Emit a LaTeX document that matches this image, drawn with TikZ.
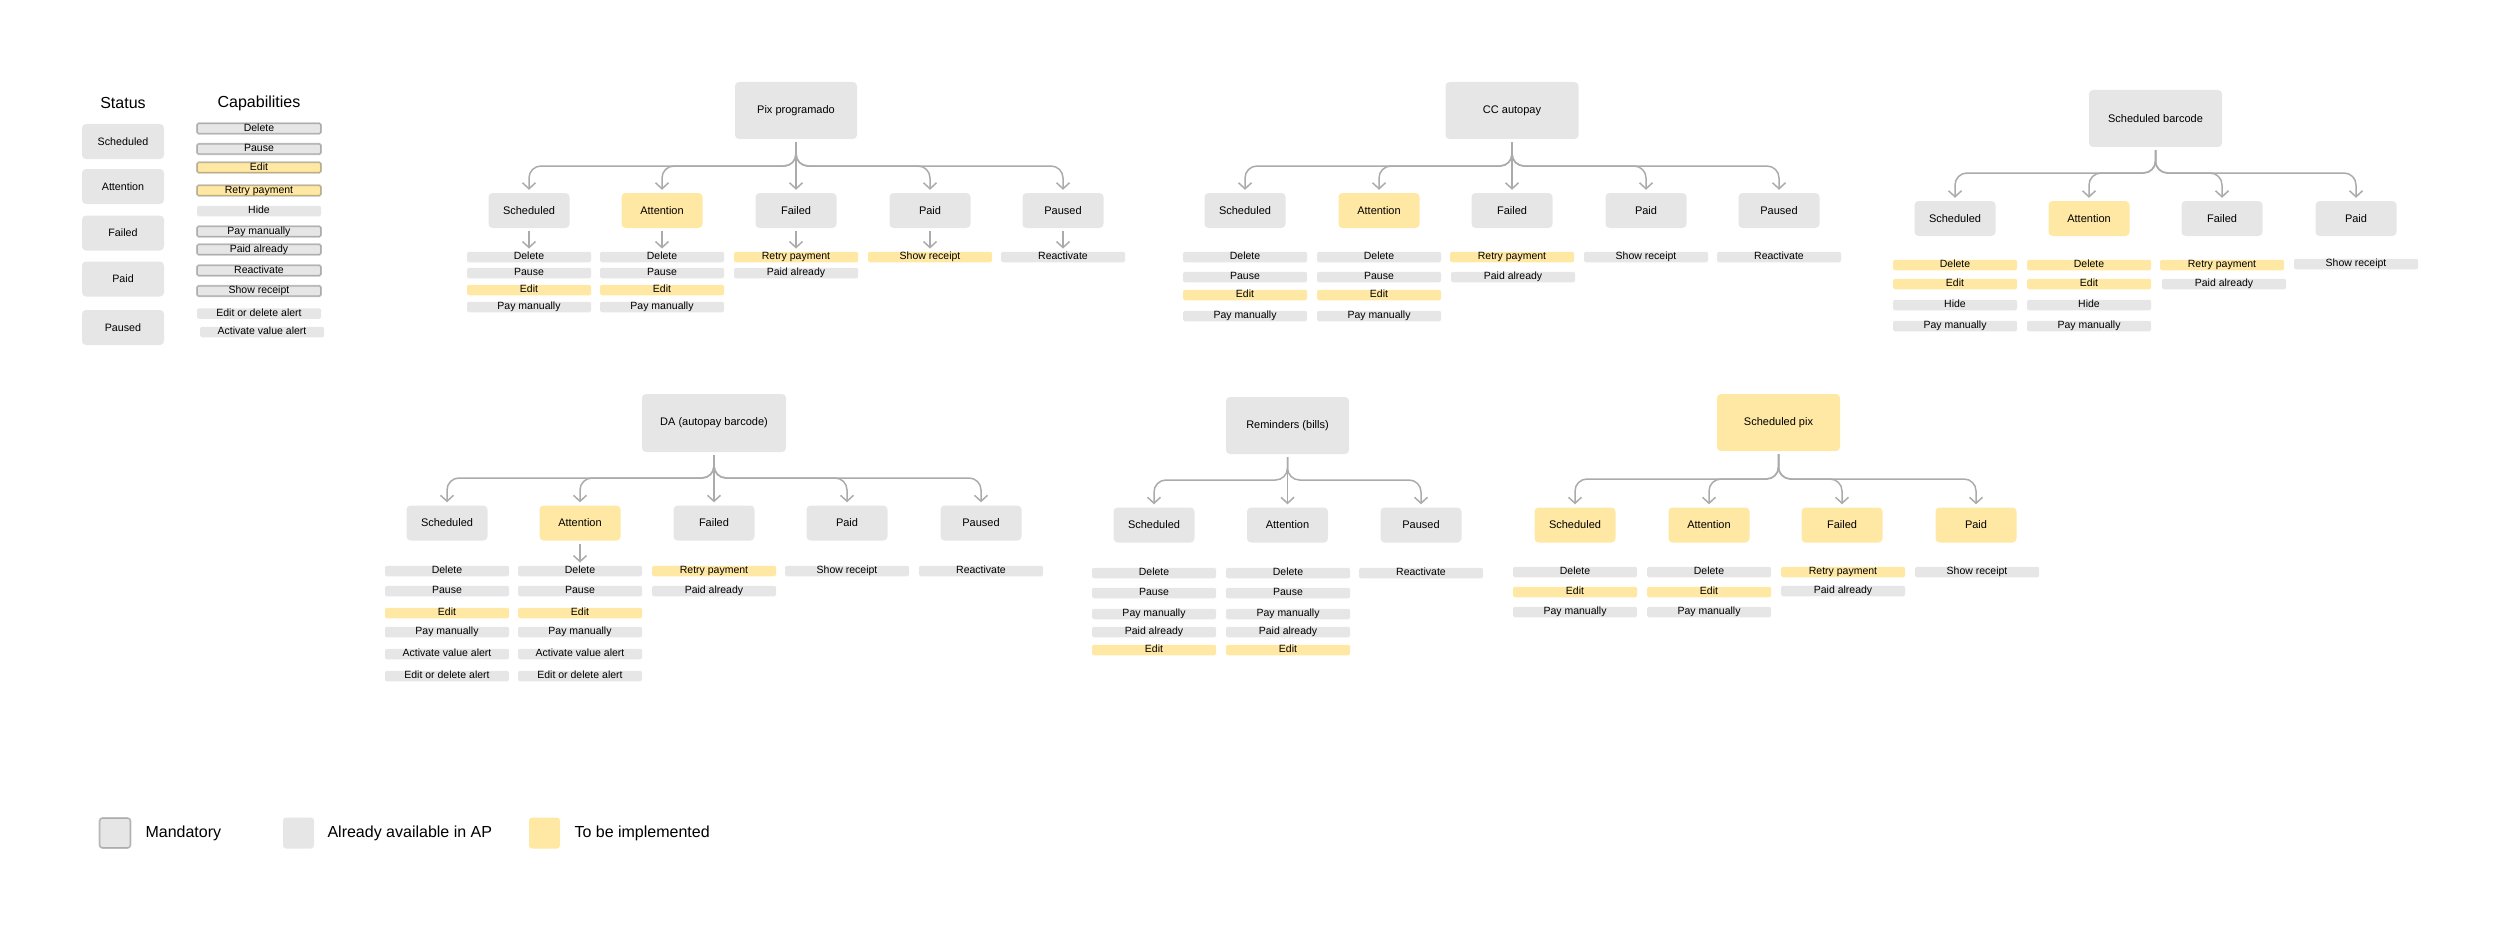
\documentclass[tikz,border=0pt]{standalone}
\usepackage{fontspec}
\setmainfont{Liberation Sans}
\usetikzlibrary{arrows.meta}

\definecolor{boxgray}{HTML}{E6E6E6}
\definecolor{todoyellow}{HTML}{FFE8A3}
\definecolor{linegray}{HTML}{ABABAB}

\tikzset{
  statebox/.style={fill=boxgray, rounded corners=4pt, minimum width=81pt, minimum height=35pt, inner sep=0pt, font=\fontsize{11}{13}\selectfont},
  rootbox/.style={statebox, minimum height=57pt},
  capbox/.style={fill=boxgray, rounded corners=1.5pt, minimum width=124pt, minimum height=10.5pt, inner sep=0pt, text height=7.6pt, text depth=2.2pt, font=\fontsize{10.5}{11}\selectfont},
  todo/.style={fill=todoyellow},
  must/.style={draw=black, draw opacity=0.25, line width=1.6pt},
  branch/.style={draw=linegray, line width=1.5pt, rounded corners=12pt, shorten <=3pt, shorten >=3pt, -{Straight Barb[length=6pt,width=13pt]}},
  keytext/.style={anchor=west, font=\fontsize{16}{18}\selectfont},
}

\begin{document}
\begin{tikzpicture}[x=1pt,y=-1pt]

\useasboundingbox (0,0) rectangle (2500,931);

%%%%%%%%%%%%%%%%%%%%%%%%
% Status and capabilities
%%%%%%%%%%%%%%%%%%%%%%%%

\begin{scope}

\node[font=\fontsize{16}{18}\selectfont] (status) at (123,103) {Status};
\node[font=\fontsize{16}{18}\selectfont] (capab) at (259,103) {Capabilities};

\node[statebox, minimum width=82pt, font=\fontsize{10.7}{12}\selectfont] (ksch) at (123,141.5) {Scheduled};
\node[statebox, minimum width=82pt, font=\fontsize{10.7}{12}\selectfont] (katt) at (123,186.5) {Attention};
\node[statebox, minimum width=82pt, font=\fontsize{10.7}{12}\selectfont] (kfai) at (123,233) {Failed};
\node[statebox, minimum width=82pt, font=\fontsize{10.7}{12}\selectfont] (kpai) at (123,279) {Paid};
\node[statebox, minimum width=82pt, font=\fontsize{10.7}{12}\selectfont] (kpau) at (123,327.5) {Paused};

\node[capbox, must, minimum width=124pt] (kc1) at (259,128.5) {Delete};
\node[capbox, must, minimum width=124pt] (kc2) at (259,149) {Pause};
\node[capbox, must, todo, minimum width=124pt] (kc3) at (259,167.5) {Edit};
\node[capbox, must, todo, minimum width=124pt] (kc4) at (259,190.5) {Retry payment};
\node[capbox, minimum width=124pt] (kc5) at (259,211) {Hide};
\node[capbox, must, minimum width=124pt] (kc6) at (259,231.5) {Pay manually};
\node[capbox, must, minimum width=124pt] (kc7) at (259,249.5) {Paid already};
\node[capbox, must, minimum width=124pt] (kc8) at (259,270.5) {Reactivate};
\node[capbox, must, minimum width=124pt] (kc9) at (259,291) {Show receipt};
\node[capbox, minimum width=124pt] (kc10) at (259,313.5) {Edit or delete alert};
\node[capbox, minimum width=124pt] (kc11) at (262,332) {Activate value alert};

\end{scope}

%%%%%%%%%%%%%%%%%%%%%%%%
% Pix programado
%%%%%%%%%%%%%%%%%%%%%%%%

\begin{scope}

\node[rootbox, minimum width=122pt] (pix) at (796,110.5) {Pix programado};

\node[statebox] (pixsch) at (529,210.5) {Scheduled};
\node[statebox, todo] (pixatt) at (662,210.5) {Attention};
\node[statebox] (pixfai) at (796,210.5) {Failed};
\node[statebox] (pixpai) at (930,210.5) {Paid};
\node[statebox] (pixpau) at (1063,210.5) {Paused};

\coordinate (pixhub) at (796,166);
\draw[branch] (pix) -- (pixhub) -| (pixsch);
\draw[branch] (pix) -- (pixhub) -| (pixatt);
\draw[branch] (pix) -- (pixfai);
\draw[branch] (pix) -- (pixhub) -| (pixpai);
\draw[branch] (pix) -- (pixhub) -| (pixpau);

\node[capbox] (pixsch1) at (529,257) {Delete};
\node[capbox] (pixsch2) at (529,273) {Pause};
\node[capbox, todo] (pixsch3) at (529,290) {Edit};
\node[capbox] (pixsch4) at (529,307) {Pay manually};

\node[capbox] (pixatt1) at (662,257) {Delete};
\node[capbox] (pixatt2) at (662,273) {Pause};
\node[capbox, todo] (pixatt3) at (662,290) {Edit};
\node[capbox] (pixatt4) at (662,307) {Pay manually};

\node[capbox, todo] (pixfai1) at (796,257) {Retry payment};
\node[capbox] (pixfai2) at (796,273) {Paid already};

\node[capbox, todo] (pixpai1) at (930,257) {Show receipt};

\node[capbox] (pixpau1) at (1063,257) {Reactivate};

\draw[branch] (pixsch) -- (pixsch1);
\draw[branch] (pixatt) -- (pixatt1);
\draw[branch] (pixfai) -- (pixfai1);
\draw[branch] (pixpai) -- (pixpai1);
\draw[branch] (pixpau) -- (pixpau1);

\end{scope}

%%%%%%%%%%%%%%%%%%%%%%%%
% CC autopay
%%%%%%%%%%%%%%%%%%%%%%%%

\begin{scope}

\node[rootbox, minimum width=133pt] (cc) at (1512,110.5) {CC autopay};

\node[statebox] (ccsch) at (1245,210.5) {Scheduled};
\node[statebox, todo] (ccatt) at (1379,210.5) {Attention};
\node[statebox] (ccfai) at (1512,210.5) {Failed};
\node[statebox] (ccpai) at (1646,210.5) {Paid};
\node[statebox] (ccpau) at (1779,210.5) {Paused};

\coordinate (cchub) at (1512,166);
\draw[branch] (cc) -- (cchub) -| (ccsch);
\draw[branch] (cc) -- (cchub) -| (ccatt);
\draw[branch] (cc) -- (ccfai);
\draw[branch] (cc) -- (cchub) -| (ccpai);
\draw[branch] (cc) -- (cchub) -| (ccpau);

\node[capbox] (ccsch1) at (1245,257) {Delete};
\node[capbox] (ccsch2) at (1245,277) {Pause};
\node[capbox, todo] (ccsch3) at (1245,295) {Edit};
\node[capbox] (ccsch4) at (1245,316) {Pay manually};

\node[capbox] (ccatt1) at (1379,257) {Delete};
\node[capbox] (ccatt2) at (1379,277) {Pause};
\node[capbox, todo] (ccatt3) at (1379,295) {Edit};
\node[capbox] (ccatt4) at (1379,316) {Pay manually};

\node[capbox, todo] (ccfai1) at (1512,257) {Retry payment};
\node[capbox] (ccfai2) at (1513,277) {Paid already};

\node[capbox] (ccpai1) at (1646,257) {Show receipt};

\node[capbox] (ccpau1) at (1779,257) {Reactivate};

\end{scope}

%%%%%%%%%%%%%%%%%%%%%%%%
% Scheduled barcode
%%%%%%%%%%%%%%%%%%%%%%%%

\begin{scope}

\node[rootbox, minimum width=133pt] (bar) at (2155.5,118.5) {Scheduled barcode};

\node[statebox] (barsch) at (1955,218.5) {Scheduled};
\node[statebox, todo] (baratt) at (2089,218.5) {Attention};
\node[statebox] (barfai) at (2222,218.5) {Failed};
\node[statebox] (barpai) at (2356,218.5) {Paid};

\coordinate (barhub) at (2155.5,173);
\draw[branch] (bar) -- (barhub) -| (barsch);
\draw[branch] (bar) -- (barhub) -| (baratt);
\draw[branch] (bar) -- (barhub) -| (barfai);
\draw[branch] (bar) -- (barhub) -| (barpai);

\node[capbox, todo] (barsch1) at (1955,265) {Delete};
\node[capbox, todo] (barsch2) at (1955,284) {Edit};
\node[capbox] (barsch3) at (1955,305) {Hide};
\node[capbox] (barsch4) at (1955,326) {Pay manually};

\node[capbox, todo] (baratt1) at (2089,265) {Delete};
\node[capbox, todo] (baratt2) at (2089,284) {Edit};
\node[capbox] (baratt3) at (2089,305) {Hide};
\node[capbox] (baratt4) at (2089,326) {Pay manually};

\node[capbox, todo] (barfai1) at (2222,265) {Retry payment};
\node[capbox] (barfai2) at (2224,284) {Paid already};

\node[capbox] (barpai1) at (2356,264) {Show receipt};

\end{scope}

%%%%%%%%%%%%%%%%%%%%%%%%
% DA (autopay barcode)
%%%%%%%%%%%%%%%%%%%%%%%%

\begin{scope}

\node[rootbox, minimum width=144pt, minimum height=58pt] (da) at (714,423) {DA (autopay barcode)};

\node[statebox] (dasch) at (447,523) {Scheduled};
\node[statebox, todo] (daatt) at (580,523) {Attention};
\node[statebox] (dafai) at (714,523) {Failed};
\node[statebox] (dapai) at (847,523) {Paid};
\node[statebox] (dapau) at (981,523) {Paused};

\coordinate (dahub) at (714,478);
\draw[branch] (da) -- (dahub) -| (dasch);
\draw[branch] (da) -- (dahub) -| (daatt);
\draw[branch] (da) -- (dafai);
\draw[branch] (da) -- (dahub) -| (dapai);
\draw[branch] (da) -- (dahub) -| (dapau);

\node[capbox] (dasch1) at (447,571) {Delete};
\node[capbox] (dasch2) at (447,591) {Pause};
\node[capbox, todo] (dasch3) at (447,613) {Edit};
\node[capbox] (dasch4) at (447,632) {Pay manually};
\node[capbox] (dasch5) at (447,654) {Activate value alert};
\node[capbox] (dasch6) at (447,676) {Edit or delete alert};

\node[capbox] (daatt1) at (580,571) {Delete};
\node[capbox] (daatt2) at (580,591) {Pause};
\node[capbox, todo] (daatt3) at (580,613) {Edit};
\node[capbox] (daatt4) at (580,632) {Pay manually};
\node[capbox] (daatt5) at (580,654) {Activate value alert};
\node[capbox] (daatt6) at (580,676) {Edit or delete alert};

\node[capbox, todo] (dafai1) at (714,571) {Retry payment};
\node[capbox] (dafai2) at (714,591) {Paid already};

\node[capbox] (dapai1) at (847,571) {Show receipt};

\node[capbox] (dapau1) at (981,571) {Reactivate};

\draw[branch] (daatt) -- (daatt1);

\end{scope}

%%%%%%%%%%%%%%%%%%%%%%%%
% Reminders (bills)
%%%%%%%%%%%%%%%%%%%%%%%%

\begin{scope}

\node[rootbox, minimum width=123pt] (rem) at (1287.5,425.5) {Reminders (bills)};

\node[statebox] (remsch) at (1154,525) {Scheduled};
\node[statebox] (rematt) at (1287.5,525) {Attention};
\node[statebox] (rempau) at (1421,525) {Paused};

\coordinate (remhub) at (1287.5,480);
\draw[branch] (rem) -- (remhub) -| (remsch);
\draw[branch] (rem) -- (rematt);
\draw[branch] (rem) -- (remhub) -| (rempau);

\node[capbox] (remsch1) at (1154,573) {Delete};
\node[capbox] (remsch2) at (1154,593) {Pause};
\node[capbox] (remsch3) at (1154,614) {Pay manually};
\node[capbox] (remsch4) at (1154,632) {Paid already};
\node[capbox, todo] (remsch5) at (1154,650) {Edit};

\node[capbox] (rematt1) at (1288,573) {Delete};
\node[capbox] (rematt2) at (1288,593) {Pause};
\node[capbox] (rematt3) at (1288,614) {Pay manually};
\node[capbox] (rematt4) at (1288,632) {Paid already};
\node[capbox, todo] (rematt5) at (1288,650) {Edit};

\node[capbox] (rempau1) at (1421,573) {Reactivate};

\end{scope}

%%%%%%%%%%%%%%%%%%%%%%%%
% Scheduled pix
%%%%%%%%%%%%%%%%%%%%%%%%

\begin{scope}

\node[rootbox, todo, minimum width=123pt] (spx) at (1778.5,422.5) {Scheduled pix};

\node[statebox, todo] (spxsch) at (1575,525) {Scheduled};
\node[statebox, todo] (spxatt) at (1709,525) {Attention};
\node[statebox, todo] (spxfai) at (1842,525) {Failed};
\node[statebox, todo] (spxpai) at (1976,525) {Paid};

\coordinate (spxhub) at (1778.5,479);
\draw[branch] (spx) -- (spxhub) -| (spxsch);
\draw[branch] (spx) -- (spxhub) -| (spxatt);
\draw[branch] (spx) -- (spxhub) -| (spxfai);
\draw[branch] (spx) -- (spxhub) -| (spxpai);

\node[capbox] (spxsch1) at (1575,572) {Delete};
\node[capbox, todo] (spxsch2) at (1575,592) {Edit};
\node[capbox] (spxsch3) at (1575,612) {Pay manually};

\node[capbox] (spxatt1) at (1709,572) {Delete};
\node[capbox, todo] (spxatt2) at (1709,592) {Edit};
\node[capbox] (spxatt3) at (1709,612) {Pay manually};

\node[capbox, todo] (spxfai1) at (1843,572) {Retry payment};
\node[capbox] (spxfai2) at (1843,591) {Paid already};

\node[capbox] (spxpai1) at (1977,572) {Show receipt};

\end{scope}

%%%%%%%%%%%%%%%%%%%%%%%%
% Key
%%%%%%%%%%%%%%%%%%%%%%%%

\node[must, fill=boxgray, rounded corners=3pt, minimum width=31pt, minimum height=30pt] (kmust) at (115,833) {};
\node[keytext] (kmusttxt) at (142,833) {Mandatory};

\node[fill=boxgray, rounded corners=3pt, minimum width=31pt, minimum height=31pt] (kgray) at (298.5,833) {};
\node[keytext] (kgraytxt) at (324,833) {Already available in AP};

\node[fill=todoyellow, rounded corners=3pt, minimum width=31pt, minimum height=31pt] (kyel) at (544.5,833) {};
\node[keytext] (kyeltxt) at (571,833) {To be implemented};

\end{tikzpicture}
\end{document}
